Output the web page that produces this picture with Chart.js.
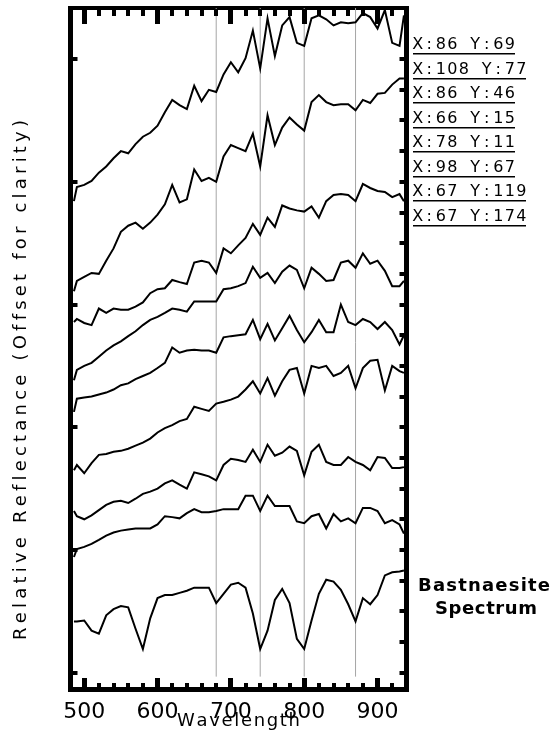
<!DOCTYPE html>
<html><head><meta charset="utf-8">
<script src="https://cdn.jsdelivr.net/npm/chart.js@4.4.1/dist/chart.umd.min.js"></script>
<style>html,body{margin:0;padding:0;background:#fff;}canvas{display:block;}</style>
</head><body>
<canvas id="c" width="552" height="735"></canvas>
<script>
// ---- data ----
const wavelengths = [486,490,500,510,520,530,540,550,560,570,580,590,600,610,620,630,640,650,660,670,680,690,700,710,720,730,740,750,760,770,780,790,800,810,820,830,840,850,860,870,880,890,900,910,920,930,936];
const specX86Y69  = [15.37,15.83,15.9,16.03,16.3,16.5,16.77,17.0,16.93,17.23,17.47,17.6,17.83,18.27,18.67,18.5,18.37,19.13,18.63,19.0,18.93,19.5,19.9,19.57,20.03,20.93,19.7,21.33,20.1,21.1,21.37,20.53,20.43,21.33,21.43,21.3,21.1,21.2,21.17,21.2,21.5,21.37,21.0,21.6,20.53,20.43,21.43];
const specX108Y77 = [12.43,12.77,12.9,13.03,13.0,13.43,13.83,14.37,14.57,14.67,14.47,14.67,14.93,15.27,15.9,15.33,15.43,16.4,16.03,16.13,16.0,16.83,17.2,17.1,17.0,17.57,16.5,18.17,17.2,17.77,18.1,17.87,17.67,18.6,18.83,18.6,18.5,18.53,18.53,18.33,18.67,18.57,18.87,18.9,19.17,19.37,19.37];
const specX86Y46  = [11.43,11.53,11.4,11.33,11.87,11.73,11.87,11.83,11.83,11.93,12.07,12.37,12.5,12.53,12.8,12.73,12.67,13.37,13.43,13.37,13.03,13.83,13.67,13.93,14.17,14.63,14.27,14.83,14.53,15.23,15.13,15.07,15.03,15.2,14.83,15.37,15.57,15.6,15.57,15.37,15.93,15.8,15.7,15.67,15.5,15.6,15.37];
const specX66Y15  = [9.53,9.87,10.0,10.1,10.3,10.5,10.67,10.8,10.97,11.13,11.33,11.5,11.6,11.73,11.87,11.83,11.77,12.1,12.1,12.1,12.1,12.5,12.53,12.6,12.7,13.23,12.87,13.03,12.7,13.07,13.27,13.13,12.53,13.2,13.0,12.77,12.8,13.37,13.43,13.2,13.67,13.33,13.43,13.1,12.6,12.6,12.77];
const specX78Y11  = [8.5,8.93,8.97,9.0,9.07,9.13,9.23,9.37,9.43,9.57,9.67,9.77,9.93,10.1,10.6,10.43,10.5,10.53,10.5,10.5,10.43,10.93,10.97,11.0,11.03,11.5,10.87,11.37,10.83,11.23,11.63,11.17,10.77,11.1,11.5,11.1,11.1,12.0,11.43,11.33,11.53,11.43,11.2,11.43,11.17,10.7,11.0];
const specX98Y67  = [6.6,6.77,6.5,6.83,7.1,7.13,7.2,7.23,7.3,7.4,7.5,7.63,7.83,7.97,8.07,8.2,8.27,8.67,8.6,8.53,8.77,8.83,8.9,9.0,9.23,9.5,9.1,9.6,9.03,9.5,9.87,9.93,9.1,10.0,9.93,10.0,9.67,9.77,10.0,9.27,9.93,10.17,10.2,9.2,10.0,9.83,9.77];
const specX67Y119 = [5.27,5.1,5.0,5.13,5.3,5.47,5.57,5.6,5.53,5.67,5.83,5.9,6.0,6.17,6.27,6.13,6.0,6.53,6.47,6.4,6.27,6.77,6.97,6.93,6.87,7.27,6.87,7.43,7.07,7.17,7.37,7.23,6.43,7.2,7.43,6.87,6.77,6.77,7.03,6.87,6.77,6.6,7.03,7.0,6.67,6.67,6.7];
const specX67Y174 = [3.77,4.03,4.1,4.2,4.33,4.47,4.57,4.63,4.67,4.7,4.7,4.7,4.83,5.1,5.07,5.03,5.2,5.33,5.23,5.23,5.27,5.33,5.33,5.33,5.77,5.77,5.27,5.77,5.43,5.43,5.43,4.93,4.87,5.1,5.17,4.7,5.17,4.93,5.03,4.87,5.37,5.37,5.27,4.87,4.97,4.83,4.53];
const specBastnaesite = [1.67,1.67,1.7,1.37,1.27,1.87,2.07,2.17,2.13,1.43,0.77,1.77,2.43,2.53,2.53,2.6,2.67,2.77,2.77,2.77,2.27,2.57,2.87,2.93,2.77,1.93,0.77,1.37,2.37,2.73,2.27,1.1,0.77,1.7,2.57,3.03,2.97,2.7,2.23,1.67,2.43,2.23,2.53,3.17,3.27,3.3,3.33];
const pixelLabels = ['X:86 Y:69','X:108 Y:77','X:86 Y:46','X:66 Y:15','X:78 Y:11','X:98 Y:67','X:67 Y:119','X:67 Y:174'];
const referenceLabel = ['Bastnaesite','Spectrum'];
const markerWavelengths = [680,740,800,870];
const markerRange = [-0.13, 21.67];
const xTickValues = [500,520,540,560,580,600,620,640,660,680,700,720,740,760,780,800,820,840,860,880,900,920];
const xTickLabels = [500,600,700,800,900];
const yTicksRight = [0,1,2,3,4,5,6,7,8,9,10,11,12,13,14,15,16,17,18,19,20];
const yTicksLeft = [0,4,8,12,16,20];
const xRange = [481.3, 939.5];
const yRange = [-0.533, 21.667];
const xTitle = 'Wavelength';
const yTitle = 'Relative Reflectance (Offset for clarity)';

const thinFont = '"DejaVu Sans ExtraLight", "DejaVu Sans", sans-serif';

const spectra = [specX86Y69,specX108Y77,specX86Y46,specX66Y15,specX78Y11,specX98Y67,specX67Y119,specX67Y174,specBastnaesite];
const spectraNames = pixelLabels.concat(['Bastnaesite Spectrum']);

const datasets = [];
spectra.forEach((s, k) => {
  datasets.push({
    label: spectraNames[k],
    data: wavelengths.map((w, i) => ({x: w, y: s[i]})),
    borderColor: '#000', borderWidth: 2, pointRadius: 0, tension: 0, fill: false, order: 1
  });
});
markerWavelengths.forEach(w => {
  datasets.push({
    label: 'marker ' + w,
    data: markerRange.map(v => ({x: w, y: v})),
    borderColor: '#a6a6a6', borderWidth: 1, pointRadius: 0, fill: false, order: 5
  });
});

function spacedText(ctx, text, x, y, targetW, align) {
  const chars = [...text];
  const widths = chars.map(c => ctx.measureText(c).width);
  const sum = widths.reduce((a, b) => a + b, 0);
  const gap = chars.length > 1 ? (targetW - sum) / (chars.length - 1) : 0;
  let cx = align === 'center' ? x - targetW / 2 : x;
  ctx.textAlign = 'left';
  chars.forEach((c, i) => { ctx.fillText(c, cx, y); cx += widths[i] + gap; });
}
function monoText(ctx, text, x, y, cell) {
  ctx.textAlign = 'center';
  [...text].forEach((c, i) => ctx.fillText(c, x + cell * i + cell / 2, y));
}

const decor = {
  id: 'decor',
  afterDraw(chart) {
    const ctx = chart.ctx, a = chart.chartArea;
    const xs = chart.scales.x, ys = chart.scales.y;
    ctx.save();
    ctx.fillStyle = '#000';
    // inward ticks
    xTickValues.forEach(v => {
      const px = xs.getPixelForValue(v);
      const major = xTickLabels.includes(v);
      const w = major ? 5 : 4;
      const lb = major ? 9 : 4, lt = major ? 15 : 7;
      ctx.fillRect(Math.round(px - w / 2), a.bottom - 2 - lb, w, lb);
      ctx.fillRect(Math.round(px - w / 2), a.top + 1, w, lt);
    });
    yTicksLeft.forEach(v => {
      const py = ys.getPixelForValue(v);
      ctx.fillRect(a.left + 2, Math.round(py - 2), 5, 4);
    });
    yTicksRight.forEach(v => {
      const py = ys.getPixelForValue(v);
      ctx.fillRect(a.right - 7, Math.round(py - 2), 5, 4);
    });
    // axis titles
    ctx.textBaseline = 'middle';
    ctx.font = '18px ' + thinFont;
    spacedText(ctx, xTitle, 238.5, 721, 123, 'center');
    ctx.save();
    ctx.translate(21, 380);
    ctx.rotate(-Math.PI / 2);
    ctx.font = '18px ' + thinFont;
    spacedText(ctx, yTitle, 0, 0, 520, 'center');
    ctx.restore();
    // pixel labels
    ctx.font = '16px ' + thinFont;
    pixelLabels.forEach((t, i) => {
      const cy = 45 + 24.5 * i;
      monoText(ctx, t, 412, cy, 11.5);
      ctx.fillRect(413, Math.round(cy + 8), Math.round(t.length * 11.5 - 2), 1.5);
    });
    // reference label
    ctx.font = 'bold 18px "DejaVu Sans"';
    spacedText(ctx, referenceLabel[0], 484, 586, 132, 'center');
    spacedText(ctx, referenceLabel[1], 486, 609, 102, 'center');
    ctx.restore();
  }
};

new Chart(document.getElementById('c'), {
  type: 'line',
  data: { datasets },
  options: {
    responsive: false, animation: false, devicePixelRatio: 1,
    layout: { padding: 0 },
    plugins: { legend: { display: false }, tooltip: { enabled: false } },
    scales: {
      x: {
        type: 'linear', position: 'bottom', min: xRange[0], max: xRange[1],
        afterBuildTicks: s => { s.ticks = xTickValues.map(v => ({ value: v })); },
        ticks: { autoSkip: false, maxRotation: 0, padding: 2, color: '#000',
          font: { family: thinFont, size: 22 },
          callback: v => xTickLabels.includes(v) ? String(v) : '' },
        grid: { display: false, lineWidth: 5 },
        border: { display: true, width: 5, color: '#000' },
        afterFit: s => { s.height = 46; }
      },
      xTop: {
        type: 'linear', position: 'top', min: xRange[0], max: xRange[1],
        ticks: { display: false }, grid: { display: false, lineWidth: 4 },
        border: { display: true, width: 4, color: '#000' },
        afterFit: s => { s.height = 8; }
      },
      y: {
        type: 'linear', position: 'left', min: yRange[0], max: yRange[1],
        afterBuildTicks: s => { s.ticks = yTicksLeft.map(v => ({ value: v })); },
        ticks: { display: false }, grid: { display: false, lineWidth: 5 },
        border: { display: true, width: 5, color: '#000' },
        afterFit: s => { s.width = 70.5; }
      },
      yRight: {
        type: 'linear', position: 'right', min: yRange[0], max: yRange[1],
        ticks: { display: false }, grid: { display: false, lineWidth: 5 },
        border: { display: true, width: 5, color: '#000' },
        afterFit: s => { s.width = 145.5; }
      }
    }
  },
  plugins: [decor]
});
</script>
</body></html>
